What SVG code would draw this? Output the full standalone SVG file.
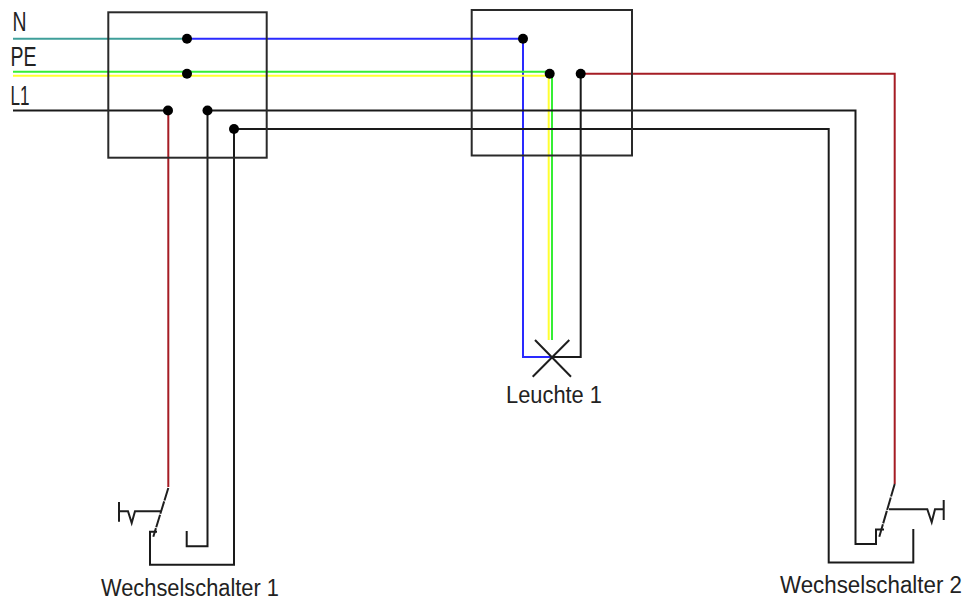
<svg xmlns="http://www.w3.org/2000/svg" width="965" height="601" viewBox="0 0 965 601">
<style>
.w{fill:none;stroke-width:2;stroke-linejoin:miter}
.k{stroke:#1a1a1a}.b{stroke:#2a2aff}.r{stroke:#a51c24}.g{stroke:#35ee35}.y{stroke:#ffff30}.t{stroke:#3f9f9a}
.box{fill:none;stroke:#2a2a2a;stroke-width:2}
.sym{fill:none;stroke:#1e1e1e;stroke-width:2}
.d{stroke-dasharray:13 1}
.dot{fill:#000}
text{font-family:"Liberation Sans",Arial,sans-serif;fill:#222;font-size:21px}
.lab{font-size:27px}
</style>
<rect width="965" height="601" fill="#fff"/>
<g id="connectors">
<path class="w t" d="M13 38.7H187"/>
<path class="w b" d="M187 38.7H523V357H551"/>
<path class="w g" d="M13 71.7H552V340"/>
<path class="w y" d="M13 75.8H548.7V340"/>
<path class="w k" d="M13 110.5H168"/>
<path class="w k" d="M207.5 110.5H855.5V544H876V529.5H884"/>
<path class="w k" d="M234 129H828.7V562.5H913.3V529"/>
<path class="w r" d="M168.3 110.5V487"/>
<path class="w k" d="M207.5 110.5V546.3H186.7V531"/>
<path class="w k" d="M234 129V564.7H150V531.7H157"/>
<path class="w k" d="M580.7 73.7V357H551"/>
<path class="w r" d="M580.7 73.7H894.7V484"/>
</g>
<g id="box-1"><rect class="box" x="108.3" y="12.3" width="158.4" height="145.4"/></g>
<g id="box-2"><rect class="box" x="471.7" y="10" width="160.3" height="145.5"/></g>
<g id="terminals">
<circle class="dot" cx="187" cy="38.7" r="5"/>
<circle class="dot" cx="187" cy="73.7" r="5"/>
<circle class="dot" cx="168" cy="110.5" r="5"/>
<circle class="dot" cx="207.5" cy="110.5" r="5"/>
<circle class="dot" cx="234" cy="129" r="5"/>
<circle class="dot" cx="523" cy="38.7" r="5"/>
<circle class="dot" cx="549.7" cy="73.7" r="5"/>
<circle class="dot" cx="580.7" cy="73.7" r="5"/>
</g>
<g id="lamp">
<path class="sym" d="M535 340L571 376.7M569.3 340L532.7 376.7"/>
<text transform="translate(506 402.5) scale(1 1.12)" textLength="96" lengthAdjust="spacingAndGlyphs">Leuchte 1</text>
</g>
<g id="switch-1">
<path class="sym d" d="M168.3 488L153.3 536.7"/>
<path class="sym" d="M119 502V521.7M119 511.3H128L131.7 523L135 511.3H161"/>
<text transform="translate(101 595.5) scale(1 1.12)" textLength="178" lengthAdjust="spacingAndGlyphs">Wechselschalter 1</text>
</g>
<g id="switch-2">
<path class="sym d" d="M894.7 484L879.3 536.7"/>
<path class="sym" d="M889 509.3H927.3L931.7 522.3L935 509.3H943.7M943.7 500V520"/>
<text transform="translate(780 593) scale(1 1.12)" textLength="182" lengthAdjust="spacingAndGlyphs">Wechselschalter 2</text>
</g>
<g id="labels">
<text class="lab" x="12.5" y="31" textLength="14" lengthAdjust="spacingAndGlyphs">N</text>
<text class="lab" x="10.5" y="66" textLength="26" lengthAdjust="spacingAndGlyphs">PE</text>
<text class="lab" x="10.5" y="105" textLength="19" lengthAdjust="spacingAndGlyphs">L1</text>
</g>
</svg>
